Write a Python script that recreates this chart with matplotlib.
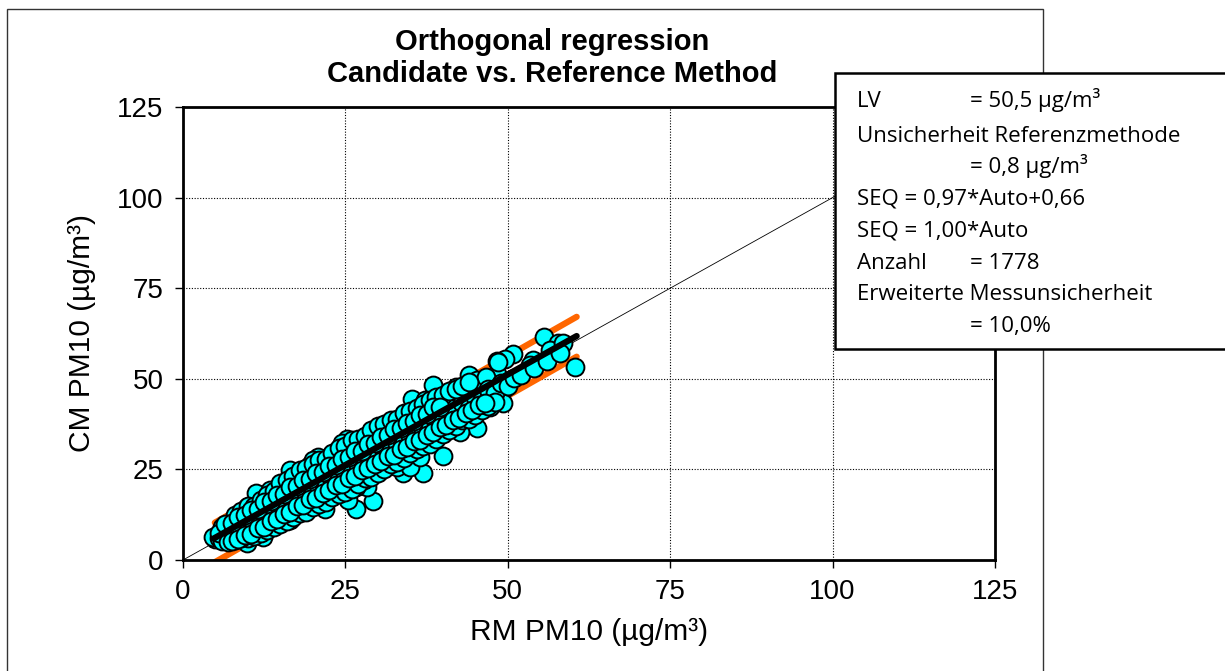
import matplotlib
matplotlib.use("Agg")
import matplotlib.pyplot as plt
from matplotlib.patches import Rectangle

plt.rcParams["font.family"] = ["Liberation Sans", "DejaVu Sans"]

# reference method (x) vs candidate method (y)
rm_pm10 = [
    55.5, 57.8, 60.4, 53.9, 50.8, 49.6, 48.3, 44.1, 38.5, 42.1, 40.8, 35.3, 37.2,
    49.6, 49.3, 47.3, 48.3, 47.0, 46.0, 44.7, 45.2, 42.6, 40.1, 37.0, 33.9, 34.9,
    32.1, 29.5, 29.2, 26.7, 25.4, 28.3, 25.2, 24.4, 21.9, 19.0, 16.5, 19.5, 20.8,
    22.1, 11.3, 14.4, 12.9, 16.0, 8.8, 6.2, 4.9, 30.8, 32.6, 34.2, 36.5, 39.0,
    38.0, 36.0, 33.4, 27.8, 28.8, 31.3, 43.1, 43.7, 40.1, 38.0, 46.2, 47.5, 48.5,
    33.9, 31.9, 29.8, 26.2, 25.2, 23.7, 23.1, 22.6, 20.6, 18.5, 18.0, 15.9, 14.9,
    13.9, 13.4, 11.9, 10.3, 9.8, 8.8, 7.7, 7.2, 9.3, 11.3, 12.4, 13.9, 14.9, 16.5,
    17.5, 19.5, 21.6, 23.7, 24.9, 26.7, 27.8, 29.3, 30.8, 32.9, 34.9, 36.5, 37.0,
    40.1, 41.1, 42.1, 44.7, 45.2, 46.7, 50.3, 53.4, 56.5, 58.5,
    4.6, 6.2, 9.8, 12.3, 11.4, 13.4, 14.9, 16.5, 19.1, 17.5, 20.0, 16.5,
    5.5, 6.0, 6.5, 7.0, 7.5, 8.0, 8.5, 9.0, 9.5, 10.0, 10.5, 11.0, 11.5, 12.0,
    12.5, 13.0, 13.5, 14.0, 14.5, 15.0, 15.5, 16.0, 16.5, 17.0, 17.5, 18.0, 18.5,
    19.0, 19.5, 20.0, 20.5, 21.0, 21.5, 22.0, 22.5, 23.0, 23.5, 24.0, 24.5, 25.0,
    25.5, 26.0, 26.5, 27.0, 27.5, 28.0, 28.5, 29.0, 29.5, 30.0, 30.5, 31.0, 31.5,
    32.0, 32.5, 33.0, 33.5, 34.0, 34.5, 35.0, 35.5, 36.0, 36.5, 37.0, 37.5, 38.0,
    38.5, 39.0, 39.5, 40.0, 41.0, 42.0, 43.0, 44.0, 45.0, 46.0, 47.0, 48.0, 49.0,
    50.0, 51.0, 52.0, 54.0, 56.0, 58.0,
    8, 9, 10, 11, 12, 13, 14, 15, 16, 17, 18, 19, 20, 21, 22, 23, 24, 25, 26, 27, 28,
    10, 11, 12, 13, 14, 15, 16, 17, 18, 19, 20, 21, 22, 23, 24, 25, 26, 27, 28, 29,
    30, 31, 32, 33, 34, 35, 36, 37, 38, 39, 40, 41, 42, 43, 44, 45, 46, 47, 48,
    29, 30, 31, 32, 33, 34, 35, 36, 37, 38, 39, 40, 41, 42, 43, 44,
    6, 7, 5.5, 7, 8, 9,
    6.5, 7.5, 8.5, 9.5, 10.5, 11.5, 12.5, 13.5, 14.5, 15.5, 16.5, 17.5, 18.5, 19.5,
    20.5, 21.5, 22.5, 23.5, 24.5, 25.5, 26.5, 27.5, 28.5, 29.5, 30.5, 31.5, 32.5,
    33.5, 34.5, 35.5, 36.5, 37.5, 38.5, 39.5,
    7.5, 8.5, 9.5, 10.5, 11.5, 12.5, 13.5, 14.5, 15.5, 16.5, 17.5, 18.5, 19.5, 20.5,
    21.5, 22.5, 23.5, 24.5, 25.5, 26.5, 27.5, 28.5, 29.5, 30.5, 31.5, 32.5, 33.5,
    34.5, 35.5, 36.5, 37.5, 38.5, 39.5, 40.5, 41.5, 42.5, 43.5, 44.5, 45.5, 46.5,
]
cm_pm10 = [
    61.4, 59.8, 53.3, 55.2, 56.8, 55.4, 55.0, 51.0, 48.3, 47.6, 46.0, 44.3, 44.1,
    47.4, 43.4, 42.3, 51.3, 49.2, 47.4, 42.3, 36.3, 35.4, 28.7, 24.1, 23.9, 27.6,
    27.6, 24.4, 16.4, 14.0, 16.5, 20.2, 33.3, 32.4, 14.2, 15.6, 24.8, 26.2, 28.5,
    24.8, 18.4, 16.5, 12.8, 11.9, 11.0, 7.3, 5.9, 33.6, 37.5, 37.2, 40.0, 36.8,
    34.0, 31.2, 29.0, 29.4, 32.2, 29.0, 40.0, 43.7, 42.3, 41.8, 44.6, 45.1, 54.7,
    34.0, 32.2, 30.8, 27.6, 24.8, 23.9, 27.6, 22.1, 22.1, 23.0, 20.2, 20.2, 20.2,
    17.5, 14.7, 12.8, 11.9, 14.7, 12.8, 9.2, 7.3, 7.3, 7.3, 10.1, 11.9, 14.7, 14.7,
    17.5, 19.3, 20.2, 20.2, 19.3, 20.2, 22.1, 25.7, 26.7, 25.7, 25.7, 28.5, 33.1,
    38.6, 41.4, 44.1, 46.0, 49.7, 50.6, 49.7, 53.8, 57.9, 59.8,
    6.3, 5.5, 4.7, 6.4, 13.8, 19.3, 16.5, 11.0, 16.5, 23.0, 27.6, 12.4,
    6.0, 5.2, 7.0, 6.5, 8.0, 7.3, 9.2, 8.0, 10.1, 9.2, 11.0, 9.8, 12.2, 11.1,
    13.0, 12.0, 14.5, 13.1, 15.8, 14.0, 16.9, 15.2, 17.5, 16.1, 18.9, 17.2, 19.8,
    18.4, 21.0, 19.2, 21.8, 20.0, 22.9, 21.1, 24.0, 22.0, 25.1, 23.0, 26.0, 24.1,
    27.2, 25.0, 28.0, 26.2, 29.1, 27.0, 30.2, 28.1, 31.0, 29.0, 32.1, 30.0, 33.0,
    31.2, 34.1, 32.0, 35.2, 33.1, 36.0, 34.2, 37.0, 35.0, 38.1, 36.2, 39.0, 37.0,
    40.2, 38.0, 41.0, 39.1, 42.0, 40.5, 43.2, 42.0, 45.0, 44.2, 47.1, 46.0, 48.8,
    47.9, 50.2, 51.0, 53.0, 55.0, 57.0,
    12.5, 13.5, 14.8, 15.0, 16.5, 17.8, 19.0, 21.2, 22.0, 23.2, 24.8, 25.5, 26.5,
    27.5, 28.0, 29.5, 31.0, 31.5, 33.0, 33.5, 34.2,
    6.0, 6.5, 7.5, 8.3, 9.0, 10.0, 10.8, 12.0, 13.0, 13.2, 14.5, 15.5, 16.0, 17.5,
    18.2, 18.8, 19.5, 21.0, 22.5, 23.0, 24.0, 25.0, 26.5, 27.0, 28.2, 29.5, 30.5,
    31.5, 32.0, 33.5, 34.8, 36.0, 37.0, 38.5, 39.0, 40.0, 41.5, 42.5, 43.5,
    36.0, 37.0, 37.5, 38.5, 39.0, 40.5, 41.2, 42.0, 43.0, 44.2, 45.0, 45.5, 46.5,
    47.2, 48.0, 49.0,
    9.0, 10.0, 7.5, 5.0, 5.5, 6.2,
    9.8, 10.2, 12.0, 12.3, 13.9, 14.2, 16.0, 16.2, 17.9, 18.3, 20.1, 20.4, 22.0,
    22.3, 24.1, 24.4, 26.0, 26.3, 28.0, 28.4, 30.0, 30.2, 32.1, 32.4, 34.0, 34.5,
    36.1, 36.3, 37.9, 38.4, 40.0, 40.3, 42.1, 42.2,
    5.2, 5.8, 6.9, 7.2, 8.8, 9.1, 10.7, 11.2, 12.6, 13.3, 14.8, 15.1, 16.7, 17.2,
    18.6, 19.3, 20.8, 21.1, 22.6, 23.2, 24.7, 25.3, 26.6, 27.2, 28.8, 29.1, 30.6,
    31.3, 32.7, 33.2, 34.6, 35.3, 36.8, 37.2, 38.7, 39.2, 40.6, 41.4, 42.8, 43.3,
]

# regression line and uncertainty band (end points)
fit_x = [4.7, 60.6]
fit_y = [5.9, 61.8]
upper_x = [4.9, 60.6]
upper_y = [10.3, 67.1]
lower_x = [5.0, 60.6]
lower_y = [-0.5, 56.1]
diag = [0, 125]

ticks = [0, 25, 50, 75, 100, 125]

box_left = ["LV", "Unsicherheit Referenzmethode", "", "SEQ = 0,97*Auto+0,66",
            "SEQ = 1,00*Auto", "Anzahl", "Erweiterte Messunsicherheit", ""]
box_right = ["= 50,5 µg/m³", "", "= 0,8 µg/m³", "", "", "= 1778", "", "= 10,0%"]

W, H = 1225, 671
fig = plt.figure(figsize=(W / 100, H / 100), dpi=100)
ax = fig.add_axes([183 / W, 1 - 560 / H, (995 - 183) / W, (560 - 107) / H])

ax.plot(diag, diag, color="black", lw=0.6, zorder=1)
ax.plot(upper_x, upper_y, color="#FF6600", lw=4.5, solid_capstyle="round", zorder=2)
ax.plot(lower_x, lower_y, color="#FF6600", lw=4.5, solid_capstyle="round", zorder=2)
ax.scatter(rm_pm10, cm_pm10, s=165, facecolor="#00FFFF", edgecolor="black",
           linewidth=1.4, zorder=3)
ax.plot(fit_x, fit_y, color="black", lw=4.5, solid_capstyle="round", zorder=4)

ax.set_xlim(0, 125)
ax.set_ylim(0, 125)
ax.set_xticks(ticks)
ax.set_yticks(ticks)
ax.grid(True, color="black", lw=0.8, linestyle=(0, (1, 1.5)), zorder=0)
ax.set_axisbelow(True)
for sp in ax.spines.values():
    sp.set_linewidth(2)
ax.tick_params(direction="out", length=6, width=1, labelsize=20, pad=8)
ax.set_xlabel("RM PM10 (µg/m³)", fontsize=21.5, labelpad=9)
ax.set_ylabel("CM PM10 (µg/m³)", fontsize=21.5, labelpad=15)

fig.text(552 / W, 1 - 58 / H, "Orthogonal regression\nCandidate vs. Reference Method",
         ha="center", va="center", fontsize=21, fontweight="bold", linespacing=1.2)

# outer frame of the chart area
fig.patches.append(Rectangle((7 / W, -0.05), (1043 - 7) / W, 1.05 - 9 / H,
                             transform=fig.transFigure, fill=False,
                             edgecolor="#333333", lw=1))

# text box
fig.patches.append(Rectangle((835 / W, 1 - 349 / H), 420 / W, (349 - 73) / H,
                             transform=fig.transFigure, facecolor="white",
                             edgecolor="black", lw=1.8, zorder=5))
baselines = [107, 142, 173, 205, 237, 269, 300, 332]
for yb, lt, rt in zip(baselines, box_left, box_right):
    if lt:
        fig.text(857 / W, 1 - yb / H, lt, fontsize=16, family="Open Sans",
                 va="baseline", zorder=6)
    if rt:
        fig.text(970 / W, 1 - yb / H, rt, fontsize=16, family="Open Sans",
                 va="baseline", zorder=6)

fig.savefig("out.png", dpi=100)
